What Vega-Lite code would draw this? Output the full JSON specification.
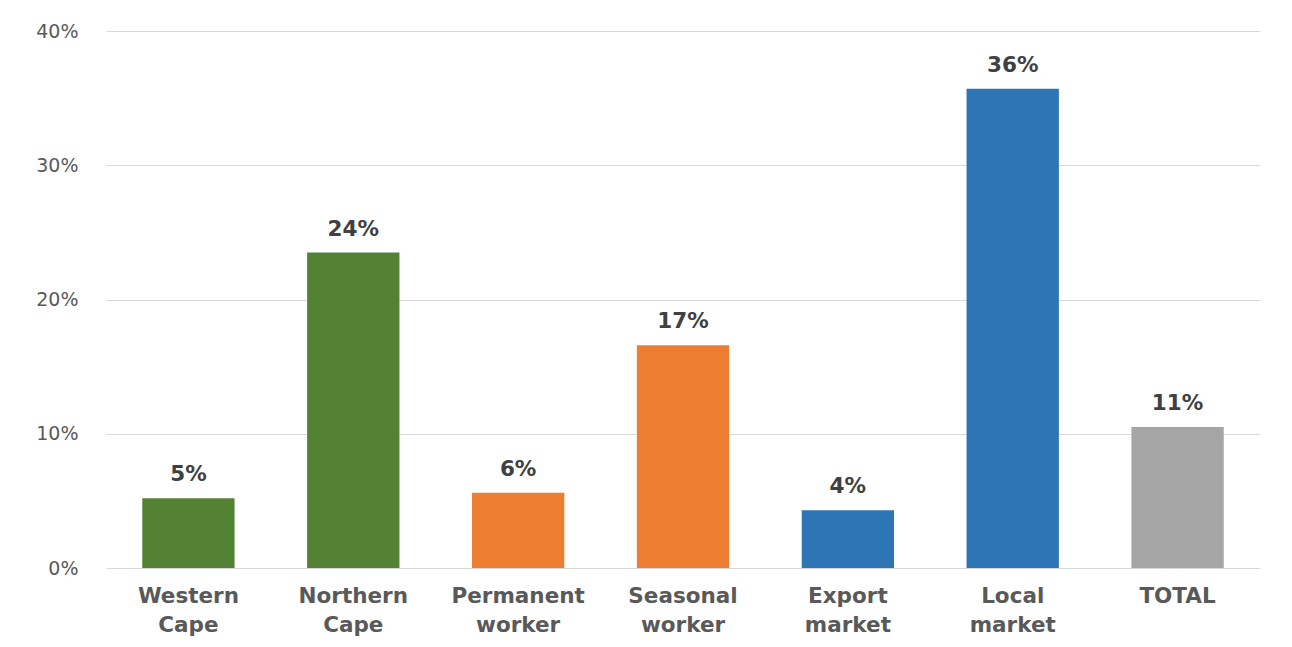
{
  "$schema": "https://vega.github.io/schema/vega-lite/v6.json",
  "width": 1154,
  "height": 537,
  "autosize": {"type": "none"},
  "padding": {"left": 106, "top": 31, "right": 32, "bottom": 79},
  "background": "white",
  "config": {"view": {"stroke": null}},
  "data": {
    "values": [
      {"category": "Western Cape", "value": 0.052, "group": "region"},
      {"category": "Northern Cape", "value": 0.235, "group": "region"},
      {"category": "Permanent worker", "value": 0.056, "group": "worker"},
      {"category": "Seasonal worker", "value": 0.166, "group": "worker"},
      {"category": "Export market", "value": 0.043, "group": "market"},
      {"category": "Local market", "value": 0.357, "group": "market"},
      {"category": "TOTAL", "value": 0.105, "group": "total"}
    ]
  },
  "encoding": {
    "x": {
      "field": "category",
      "type": "nominal",
      "sort": null,
      "scale": {"paddingInner": 0.44, "paddingOuter": 0.22},
      "axis": {
        "title": null,
        "labelAngle": 0,
        "labelExpr": "split(datum.label, ' ')",
        "labelFont": "DejaVu Sans",
        "labelFontWeight": "bold",
        "labelFontSize": 21.5,
        "labelLineHeight": 29,
        "labelColor": "#595959",
        "labelPadding": 17,
        "domain": false,
        "ticks": false,
        "grid": false
      }
    },
    "y": {
      "field": "value",
      "type": "quantitative",
      "scale": {"domain": [0, 0.4]},
      "axis": {
        "title": null,
        "format": ".0%",
        "values": [0, 0.1, 0.2, 0.3, 0.4],
        "labelFont": "DejaVu Sans",
        "labelFontSize": 19,
        "labelColor": "#595959",
        "labelPadding": 28,
        "domain": false,
        "ticks": false,
        "gridColor": "#D9D9D9",
        "gridWidth": 1
      }
    }
  },
  "layer": [
    {
      "mark": {"type": "bar"},
      "encoding": {
        "color": {
          "field": "group",
          "type": "nominal",
          "scale": {
            "domain": ["region", "worker", "market", "total"],
            "range": ["#548235", "#ED7D31", "#2E75B6", "#A5A5A5"]
          },
          "legend": null
        }
      }
    },
    {
      "mark": {
        "type": "text",
        "baseline": "bottom",
        "dy": -12,
        "font": "DejaVu Sans",
        "fontWeight": "bold",
        "fontSize": 21.5,
        "color": "#404040"
      },
      "encoding": {
        "text": {"field": "value", "type": "quantitative", "format": ".0%"}
      }
    }
  ]
}
